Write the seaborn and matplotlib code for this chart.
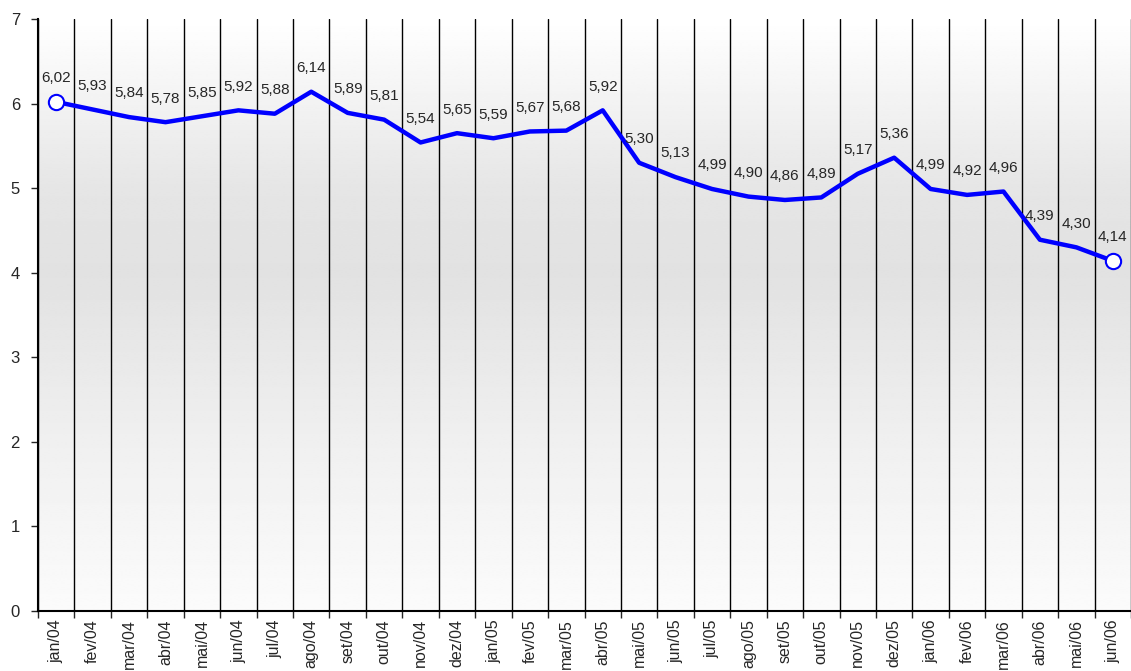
import matplotlib
matplotlib.use("Agg")
import matplotlib.pyplot as plt
import seaborn as sns
import pandas as pd
import numpy as np

# Dados
meses = ['jan/04', 'fev/04', 'mar/04', 'abr/04', 'mai/04', 'jun/04', 'jul/04', 'ago/04',
         'set/04', 'out/04', 'nov/04', 'dez/04', 'jan/05', 'fev/05', 'mar/05', 'abr/05',
         'mai/05', 'jun/05', 'jul/05', 'ago/05', 'set/05', 'out/05', 'nov/05', 'dez/05',
         'jan/06', 'fev/06', 'mar/06', 'abr/06', 'mai/06', 'jun/06']
valores = [6.02, 5.93, 5.84, 5.78, 5.85, 5.92, 5.88, 6.14, 5.89, 5.81, 5.54, 5.65, 5.59, 5.67,
           5.68, 5.92, 5.30, 5.13, 4.99, 4.90, 4.86, 4.89, 5.17, 5.36, 4.99, 4.92, 4.96, 4.39,
           4.30, 4.14]

df = pd.DataFrame({'pos': np.arange(len(meses)), 'mes': meses, 'valor': valores})

sns.set_style("white")
plt.rcParams['font.family'] = ['Liberation Sans', 'DejaVu Sans']

fig = plt.figure(figsize=(11.31, 6.71), dpi=100)
ax = fig.add_axes([38 / 1131, 60 / 671, 1093 / 1131, 592 / 671])

n = len(meses)
# fundo em degradê
yy = np.linspace(7, 0, 300)
tons = np.interp(yy, [0, 2, 4, 5, 7], [0.985, 0.94, 0.885, 0.90, 1.0])
grad = np.repeat(tons[:, None], 2, axis=1)
ax.imshow(grad, cmap='gray', vmin=0, vmax=1, aspect='auto',
          extent=[-0.5, n - 0.5, 0, 7], zorder=0, interpolation='bilinear')

# linhas verticais entre categorias
for b in np.arange(n + 1) - 0.5:
    ax.axvline(b, color='black', lw=1, zorder=1)

sns.lineplot(data=df, x='pos', y='valor', color='#0000ff', lw=3.2, ax=ax, zorder=3)
ends = df.iloc[[0, -1]]
ax.plot(ends['pos'], ends['valor'], 'o', ms=11, mfc='white', mec='#0000ff', mew=1.5, zorder=4)

for p, v in zip(df['pos'], df['valor']):
    ax.annotate(f"{v:.2f}".replace('.', ','), (p, v), xytext=(0, 12), textcoords='offset points',
                ha='center', va='bottom', fontsize=11)

ax.set_xlim(-0.5, n - 0.5)
ax.set_ylim(0, 7)
ax.set_yticks(range(8))
ax.tick_params(axis='y', labelsize=12, length=5, width=1, direction='out', left=True, pad=8)
ax.set_xticks(np.arange(n + 1) - 0.5, minor=False)
ax.set_xticklabels([])
ax.set_xticks(np.arange(n), minor=True)
ax.set_xticklabels(meses, minor=True, rotation=90, fontsize=11.5)
ax.tick_params(axis='x', which='major', length=5, width=1, direction='out', bottom=True)
ax.tick_params(axis='x', which='minor', length=0, pad=6)
ax.set_xlabel('')
ax.set_ylabel('')
for s in ['top', 'right']:
    ax.spines[s].set_visible(False)
ax.spines['left'].set_color('black')
ax.spines['bottom'].set_color('black')
ax.spines['left'].set_linewidth(1.5)
ax.spines['bottom'].set_linewidth(1.5)

plt.savefig('out.png', dpi=100)
